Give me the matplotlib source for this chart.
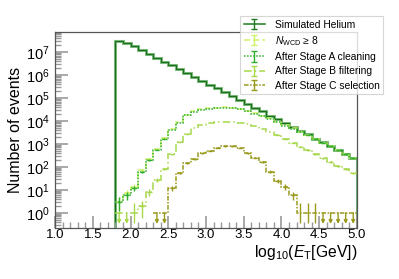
import numpy as np
import matplotlib
matplotlib.use("Agg")
import matplotlib.pyplot as plt
from matplotlib.ticker import MultipleLocator, LogLocator, NullFormatter

plt.rcParams['font.family'] = ['Liberation Sans', 'DejaVu Sans']
plt.rcParams['mathtext.fontset'] = 'custom'
plt.rcParams['mathtext.rm'] = 'Liberation Sans'
plt.rcParams['mathtext.it'] = 'Liberation Sans:italic'

# bins in log10(E_T / GeV), width 0.1, from 1.8 to 5.0
edges = np.round(np.arange(1.8, 5.01, 0.1), 2)
centers = edges[:-1] + 0.05

helium = [3.1e7, 2.5e7, 1.8e7, 1.2e7, 8.3e6, 5.6e6, 3.8e6, 2.6e6, 1.8e6, 1.2e6,
          8.1e5, 5.6e5, 3.8e5, 2.6e5, 1.8e5, 1.2e5, 8.1e4, 5.5e4, 3.8e4, 2.6e4,
          1.7e4, 1.2e4, 8.1e3, 5.5e3, 3.7e3, 2.6e3, 1.7e3, 1.2e3, 810, 550, 370, 250]
n_wcd = [3, 7, 14, 70, 220, 600, 1.8e3, 4.4e3, 8.6e3, 1.9e4,
         2.65e4, 3.2e4, 3.6e4, 3.8e4, 3.9e4, 3.8e4, 3.4e4, 2.8e4, 2.25e4, 1.7e4,
         1.28e4, 9.2e3, 6.6e3, 4.8e3, 3.4e3, 2.45e3, 1.7e3, 1.15e3, 800, 540, 365, 245]
stage_a = [3, 6, 12, 60, 200, 550, 1.7e3, 4.1e3, 8.0e3, 1.8e4,
           2.5e4, 3.0e4, 3.4e4, 3.6e4, 3.7e4, 3.6e4, 3.2e4, 2.6e4, 2.1e4, 1.6e4,
           1.2e4, 8.7e3, 6.3e3, 4.6e3, 3.3e3, 2.4e3, 1.7e3, 1.15e3, 800, 540, 365, 245]
stage_b = [1, 1, 1, 2, 8, 27, 80, 350, 1.25e3, 2.8e3,
           4.8e3, 6.6e3, 7.9e3, 8.7e3, 9.1e3, 9.1e3, 8.5e3, 7.4e3, 6.0e3, 4.5e3,
           3.3e3, 2.4e3, 1.66e3, 1.12e3, 760, 525, 355, 240, 166, 112, 80, 55]
stage_c = [0, 0, 0, 0, 0, 1, 1, 12, 55, 150,
           220, 400, 500, 660, 800, 800, 660, 400, 250, 160,
           63, 25, 14, 6, 1, 1, 1, 1, 1, 1, 1, 1]

b_arrows = [1.85, 1.95]
c_arrows = [2.35, 2.45, 4.55, 4.65, 4.75, 4.85, 4.95]

labels = ["Simulated Helium", r"$N_\mathrm{WCD}$ ≥ 8", "After Stage A cleaning",
          "After Stage B filtering", "After Stage C selection"]
colors = ["#1e7a1e", "#ccf266", "#2fae2f", "#a6d84a", "#999a1c"]
styles = ["-", (0, (4, 2)), (0, (1, 1)), (0, (5, 2, 1, 2)), (0, (3, 1, 1, 1))]

fig = plt.figure(figsize=(3.99, 2.79), dpi=100)
ax = fig.add_axes([55 / 399, 51 / 279, 302 / 399, 196 / 279])

# helium: light wide band under dark thin line, drawn to the floor at 1.8
ax.stairs(helium, edges, baseline=1e-3, color="#86c086", lw=2.2)
ax.stairs(helium, edges, baseline=1e-3, color="#1a701a", lw=0.9)

series = [n_wcd, stage_a, stage_b, stage_c]
arrows = [[], [], b_arrows, c_arrows]
for vals, col, ls, arr in zip(series, colors[1:], styles[1:], arrows):
    v = np.array(vals, dtype=float)
    first = np.argmax(v > 0)
    ax.stairs(v[first:], edges[first:], baseline=None, color=col, ls=ls, lw=1.1)
    for xc, n in zip(centers[first:], v[first:]):
        if np.any(np.isclose(xc, arr)):
            ax.annotate("", xy=(xc, 0.33), xytext=(xc, 1.0),
                        arrowprops=dict(arrowstyle="-|>", color=col, lw=1.0,
                                        mutation_scale=5, shrinkA=0, shrinkB=0))
        elif n == 1:
            ax.vlines(xc, 0.37, 2.7, color=col, lw=1.0)
        elif n < 3e3:
            err = np.sqrt(n)
            ax.vlines(xc, n - err, n + err, color=col, lw=1.0)
            ax.hlines(n, xc - 0.03, xc + 0.03, color=col, lw=1.0)

# legend proxies
handles = []
for col, ls in zip(colors, styles):
    h = ax.errorbar([np.nan], [np.nan], yerr=[1], color=col, ls=ls, lw=1.1,
                    elinewidth=1.0, capsize=2)
    handles.append(h)
leg = fig.legend(handles, labels, loc="upper right",
                 bbox_to_anchor=(383 / 399, 1 - 16 / 279), fontsize=7.4,
                 frameon=True, fancybox=False, edgecolor="#cccccc",
                 borderpad=0.35, labelspacing=0.42, handlelength=2.1,
                 handletextpad=0.9, borderaxespad=0)
leg.get_frame().set_linewidth(0.8)

ax.set_xlim(1.0, 5.0)
ax.set_yscale("log")
ax.set_ylim(0.22, 7.4e7)
ax.xaxis.set_major_locator(MultipleLocator(0.5))
ax.xaxis.set_minor_locator(MultipleLocator(0.1))
ax.xaxis.set_major_formatter(plt.FormatStrFormatter("%.1f"))
ax.yaxis.set_major_locator(LogLocator(base=10, numticks=20))
ax.yaxis.set_minor_locator(LogLocator(base=10, subs=np.arange(2, 10), numticks=20))
ax.yaxis.set_minor_formatter(NullFormatter())

ax.tick_params(which="both", direction="in", color="#999999",
               top=False, right=False)
ax.tick_params(axis="x", labelsize=9.5, pad=1)
ax.tick_params(axis="y", labelsize=10.5, pad=4)
ax.tick_params(which="major", length=9, width=1.2)
ax.tick_params(which="minor", length=4.5, width=1.0)
for s in ax.spines.values():
    s.set_color("#555555")
    s.set_linewidth(0.9)

ax.set_ylabel("Number of events", fontsize=11.5, labelpad=2)
ax.set_xlabel(r"$\mathrm{log}_{10}(E_\mathrm{T}[\mathrm{GeV}])$", fontsize=11.3,
              loc="right", labelpad=1)

fig.savefig("out.png", dpi=100)
